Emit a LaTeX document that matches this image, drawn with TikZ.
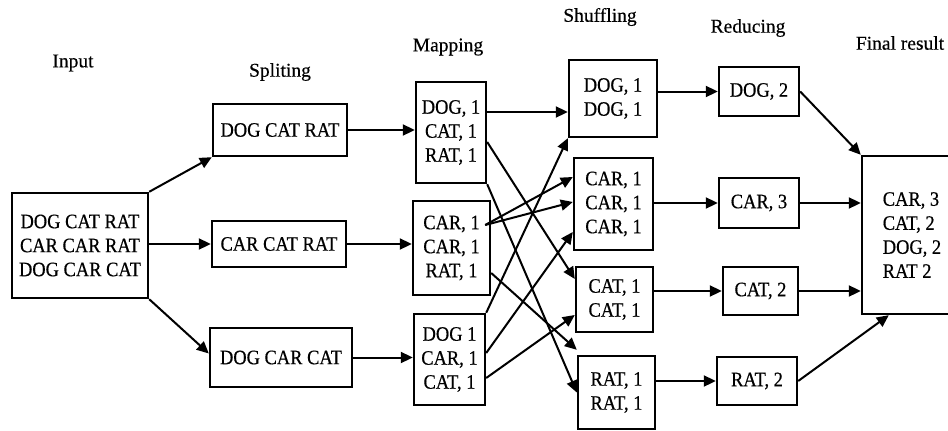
\documentclass[tikz,border=0pt]{standalone}
\usepackage{fontspec}
\setmainfont{Liberation Serif}[FakeBold=0.4]
\newfontfamily\boxfont{Liberation Serif}[FakeStretch=0.9,FakeBold=0.5]
\usetikzlibrary{arrows.meta,calc}
\begin{document}
\begin{tikzpicture}[x=1pt,y=-1pt,
  box/.style={draw,line width=2.4pt,rectangle,inner sep=0pt,align=center,
    font=\boxfont\fontsize{20.5}{24}\selectfont},
  lbl/.style={font=\fontsize{19.5}{23}\selectfont,inner sep=0pt},
  arr/.style={line width=2pt,-{Triangle[length=12pt,width=11pt]}}]
\useasboundingbox (0,0) rectangle (948,431);
% titles
\node[lbl] (tin) at (73,63) {Input};
\node[lbl] (tsp) at (280,72) {Spliting};
\node[lbl] (tmp) at (448,47) {Mapping};
\node[lbl] (tsh) at (600,17) {Shuffling};
\node[lbl] (tre) at (748,28) {Reducing};
\node[lbl] (tfi) at (900,43) {Final result};
% input
\node[box,minimum width=136,minimum height=105] (in) at (80,245.5) {DOG CAT RAT\\CAR CAR RAT\\DOG CAR CAT};
% splitting
\node[box,minimum width=134,minimum height=52] (sp1) at (280,130) {DOG CAT RAT};
\node[box,minimum width=134,minimum height=46] (sp2) at (279,244) {CAR CAT RAT};
\node[box,minimum width=142,minimum height=59] (sp3) at (281,357.5) {DOG CAR CAT};
% mapping
\node[box,minimum width=70,minimum height=101] (m1) at (451,132.5) {DOG, 1\\CAT, 1\\RAT, 1};
\node[box,minimum width=77,minimum height=94] (m2) at (451.5,248) {CAR, 1\\CAR, 1\\RAT, 1};
\node[box,minimum width=71,minimum height=91] (m3) at (449.5,359.5) {DOG 1\\CAR, 1\\CAT, 1};
% shuffling
\node[box,minimum width=88,minimum height=77] (sh1) at (613,98.5) {DOG, 1\\DOG, 1};
\node[box,minimum width=79,minimum height=92] (sh2) at (613.5,204) {CAR, 1\\CAR, 1\\CAR, 1};
\node[box,minimum width=77,minimum height=65] (sh3) at (614.5,299.5) {CAT, 1\\CAT, 1};
\node[box,minimum width=77,minimum height=73] (sh4) at (616.5,392.5) {RAT, 1\\RAT, 1};
% reducing
\node[box,minimum width=80,minimum height=49] (r1) at (759,91.5) {DOG, 2};
\node[box,minimum width=80,minimum height=50] (r2) at (759,203) {CAR, 3};
\node[box,minimum width=75,minimum height=48] (r3) at (760.5,291) {CAT, 2};
\node[box,minimum width=80,minimum height=48] (r4) at (757,381) {RAT, 2};
% final
\node[box,minimum width=100,minimum height=158,align=left] (fin) at (912,235) {CAR, 3\\CAT, 2\\DOG, 2\\RAT 2};
% input -> split
\draw[arr] (in.north east) -- (sp1.south west);
\draw[arr] (in.east |- sp2.west) -- (sp2.west);
\draw[arr] (in.south east) -- ([yshift=4pt]sp3.west);
% split -> map
\draw[arr] (sp1.east) -- (sp1.east -| m1.west);
\draw[arr] (sp2.east) -- (sp2.east -| m2.west);
\draw[arr] (sp3.east) -- (sp3.east -| m3.west);
% map -> shuffle
\draw[arr] ([yshift=20.5pt]m1.east) -- ([yshift=20.5pt]m1.east -| sh1.west);
\draw[arr] ([yshift=-9.5pt]m1.east) -- ([yshift=20.5pt]sh3.west);
\draw[arr] (m1.south east) -- (sh4.west);
\draw[arr] ([xshift=-6pt,yshift=23pt]m2.east) -- ([yshift=27pt]sh2.west);
\draw[arr] ([xshift=-6pt,yshift=23pt]m2.east) -- ([yshift=2pt]sh2.west);
\draw[arr] ([yshift=-25pt]m2.east) -- ([yshift=5pt]sh4.north west);
\draw[arr] (m3.north east) -- (sh1.south west);
\draw[arr] ([yshift=6.5pt]m3.east) -- ([yshift=-28pt]sh2.west);
\draw[arr] ([yshift=-18.5pt]m3.east) -- ([yshift=-15.5pt]sh3.west);
% shuffle -> reduce
\draw[arr] (r1.west -| sh1.east) -- (r1.west);
\draw[arr] (r2.west -| sh2.east) -- (r2.west);
\draw[arr] (r3.west -| sh3.east) -- (r3.west);
\draw[arr] (r4.west -| sh4.east) -- (r4.west);
% reduce -> final
\draw[arr] (r1.east) -- (fin.north west);
\draw[arr] (r2.east) -- (r2.east -| fin.west);
\draw[arr] (r3.east) -- (r3.east -| fin.west);
\draw[arr] (r4.east) -- ([xshift=28pt]fin.south west);
\end{tikzpicture}
\end{document}
